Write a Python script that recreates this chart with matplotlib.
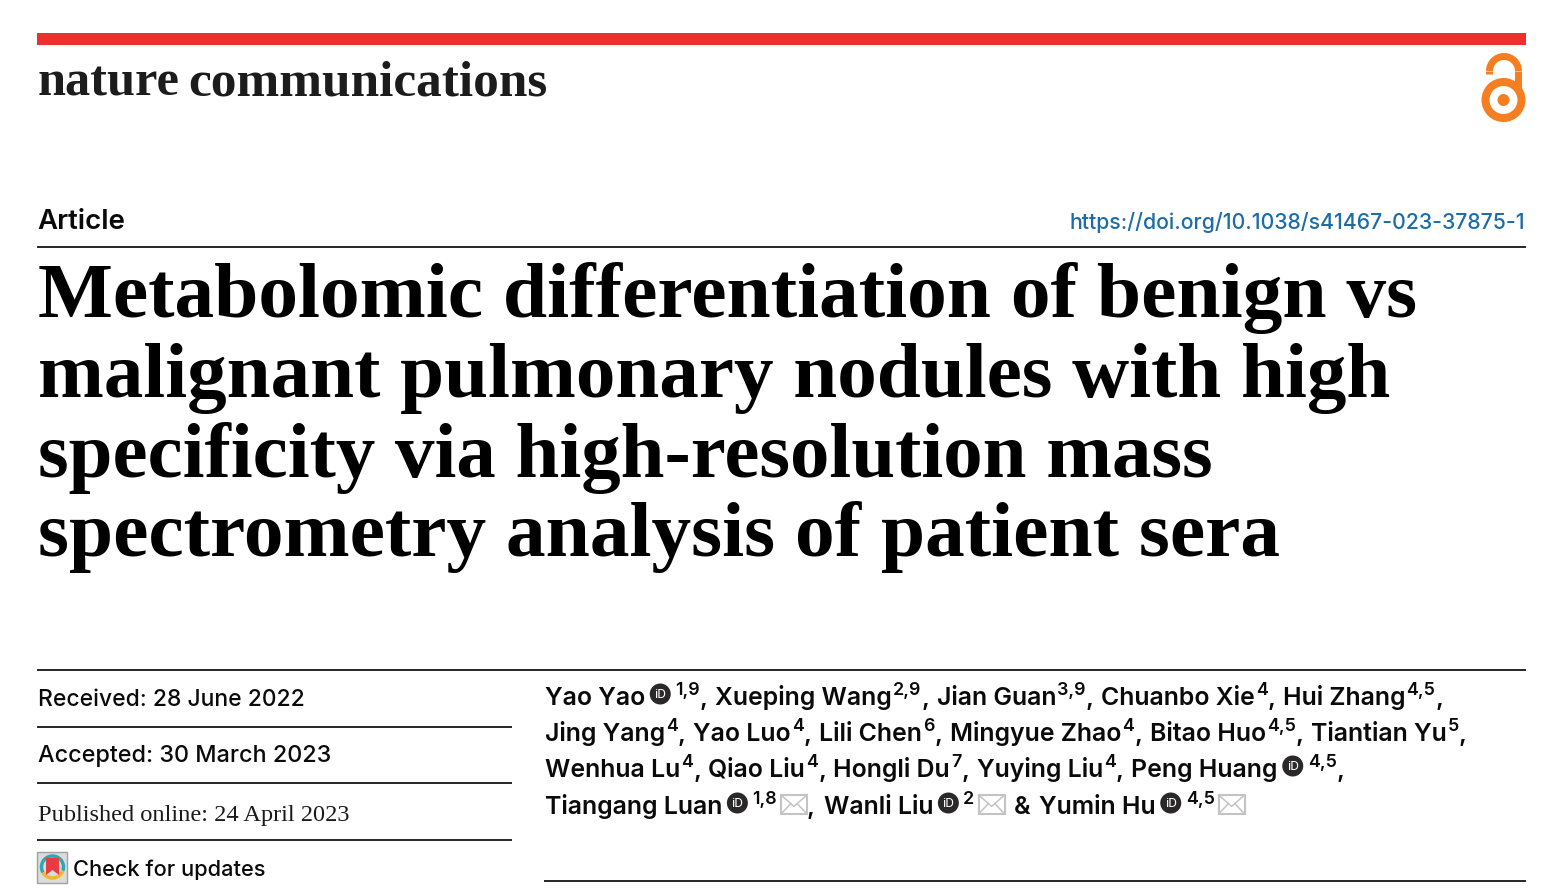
"""
Article header of a Nature Communications paper, drawn in pixel coordinates.
"""

import matplotlib
matplotlib.use("Agg")
import matplotlib.pyplot as plt
from matplotlib.patches import Arc, Circle, Polygon, Rectangle

W, H = 1568, 894
DARK = "#2b2b2b"
INK = "#0a0a0a"
ORANGE = "#F57F20"
SANS = "Inter"
SERIF = "Liberation Serif"

JOURNAL_1 = "nature"
JOURNAL_2 = "communications"
ARTICLE_TYPE = "Article"
DOI = "https://doi.org/10.1038/s41467-023-37875-1"
TITLE_LINES = [
    "Metabolomic differentiation of benign vs",
    "malignant pulmonary nodules with high",
    "specificity via high-resolution mass",
    "spectrometry analysis of patient sera",
]
RECEIVED = "Received: 28 June 2022"
ACCEPTED = "Accepted: 30 March 2023"
PUBLISHED = "Published online: 24 April 2023"
UPDATES = "Check for updates"

# name, affiliations, has orcid, has mail
AUTHORS_1 = [("Yao Yao", "1,9", True, False), ("Xueping Wang", "2,9", False, False),
             ("Jian Guan", "3,9", False, False), ("Chuanbo Xie", "4", False, False),
             ("Hui Zhang", "4,5", False, False)]
AUTHORS_2 = [("Jing Yang", "4", False, False), ("Yao Luo", "4", False, False),
             ("Lili Chen", "6", False, False), ("Mingyue Zhao", "4", False, False),
             ("Bitao Huo", "4,5", False, False), ("Tiantian Yu", "5", False, False)]
AUTHORS_3 = [("Wenhua Lu", "4", False, False), ("Qiao Liu", "4", False, False),
             ("Hongli Du", "7", False, False), ("Yuying Liu", "4", False, False),
             ("Peng Huang", "4,5", True, False)]
AUTHORS_4 = [("Tiangang Luan", "1,8", True, True), ("Wanli Liu", "2", True, True),
             ("Yumin Hu", "4,5", True, True)]

fig = plt.figure(figsize=(W / 100, H / 100), dpi=100, facecolor="white")
ax = fig.add_axes([0, 0, 1, 1])
ax.set_xlim(0, W)
ax.set_ylim(H, 0)
ax.axis("off")
renderer = fig.canvas.get_renderer()


def fit_text(s, x, y, right, **kw):
    # scale the font until the string spans x..right
    t = ax.text(x, y, s, fontsize=20, va="baseline", ha="left", **kw)
    w = t.get_window_extent(renderer).width
    t.set_fontsize(20 * (right - x) / w)
    return t


def rule(y, x0, x1, lw=2.0, color=DARK):
    ax.add_patch(Rectangle((x0, y - lw / 2), x1 - x0, lw, fc=color, ec="none"))


def run(s, x, y, size, weight=600):
    t = ax.text(x, y, s, fontsize=size, va="baseline", ha="left",
                family=SANS, weight=weight, color=INK)
    return x + t.get_window_extent(renderer).width


def orcid(cx, cy, r=10.5):
    ax.add_patch(Circle((cx, cy), r, fc="#2a2828", ec="none"))
    ax.text(cx, cy + 0.5, "iD", fontsize=9.5, color="white", ha="center", va="center",
            family="Roboto")


def mail(x, y, w=26, h=19):
    c = "#c4c4c4"
    ax.add_patch(Rectangle((x, y), w, h, fc="white", ec=c, lw=1.5))
    ax.plot([x, x + w / 2, x + w], [y, y + h * 0.6, y], color=c, lw=1.1)
    ax.plot([x, x + w * 0.38], [y + h, y + h * 0.45], color=c, lw=1.1)
    ax.plot([x + w, x + w * 0.62], [y + h, y + h * 0.45], color=c, lw=1.1)


def author_line(authors, y, trailing=True, size=17.9):
    x = 545
    for i, (name, aff, has_orcid, has_mail) in enumerate(authors):
        x = run(name, x, y, size)
        if has_orcid:
            orcid(x + 15, y - 11)
            x += 30
        else:
            x += 1
        x = run(aff, x, y - 10, size * 0.72)
        if has_mail:
            x += 4
            mail(x, y - 19)
            x += 26
        last = i == len(authors) - 1
        if authors is AUTHORS_4:
            if i == 0:
                x = run(",", x, y, size) + 9
            elif i == 1:
                x += 9
                x = run("&", x, y, size) + 9
        elif not last or trailing:
            x = run(",", x, y, size) + 7.5


# header band and journal name
ax.add_patch(Rectangle((37, 33), 1489, 12, fc="#EE2F2F", ec="none"))
fit_text(JOURNAL_1, 38, 95, 180, family=SERIF, weight="bold", color="#1c1c1c")
fit_text(JOURNAL_2, 188, 95, 548, family=SERIF, weight="bold", color="#1c1c1c")

# open access lock
ring_lw = 8 * 0.72
ax.add_patch(Circle((1503.5, 100), 18, fc="white", ec=ORANGE, lw=ring_lw))
ax.add_patch(Circle((1503.5, 100), 6, fc=ORANGE, ec="none"))
ax.add_patch(Arc((1504, 71), 29, 29, theta1=180, theta2=360, color=ORANGE, lw=7 * 0.72))
ax.plot([1489.5, 1489.5], [71, 73.5], color=ORANGE, lw=7 * 0.72, solid_capstyle="butt")
ax.plot([1518.5, 1518.5], [71, 90], color=ORANGE, lw=7 * 0.72, solid_capstyle="butt")

fit_text(ARTICLE_TYPE, 37, 229, 125, family=SANS, weight=600, color=INK)
fit_text(DOI, 1070, 229, 1526, family=SANS, weight=500, color="#1B6CA8")
rule(247, 37, 1526)

# title
title_ends = [1415, 1391, 1213, 1281]
title_base = [317, 397, 477, 556]
for line, right, base in zip(TITLE_LINES, title_ends, title_base):
    fit_text(line, 38, base, right, family=SERIF, weight="bold", color="black")

# dates column
rule(670, 37, 1526)
fit_text(RECEIVED, 38, 706, 303, family=SANS, weight=500, color=INK)
rule(727, 37, 512)
fit_text(ACCEPTED, 38, 762, 331, family=SANS, weight=500, color=INK)
rule(783, 37, 512)
fit_text(PUBLISHED, 38, 821, 350, family=SERIF, color="#1a1a1a")
rule(840, 37, 512)

# check for updates badge
ax.add_patch(Rectangle((37.5, 852), 30, 31, fc="#dcdcdc", ec="#a0a0a0", lw=1))
ax.add_patch(Arc((52.5, 867), 22, 22, theta1=150, theta2=20, color="#2EA8B8", lw=2.5))
ax.add_patch(Arc((52.5, 867), 22, 22, theta1=20, theta2=150, color="#F2B632", lw=2.5))
ax.add_patch(Polygon([(46, 858), (59, 858), (59, 875), (52.5, 870), (46, 875)],
                     fc="#EA3B45", ec="none"))
fit_text(UPDATES, 73, 876, 265, family=SANS, weight=500, color=INK)

# authors
author_line(AUTHORS_1, 705)
author_line(AUTHORS_2, 741)
author_line(AUTHORS_3, 777)
author_line(AUTHORS_4, 814, trailing=False)
rule(881, 544, 1526)

fig.savefig("out.png", dpi=100, facecolor="white")
